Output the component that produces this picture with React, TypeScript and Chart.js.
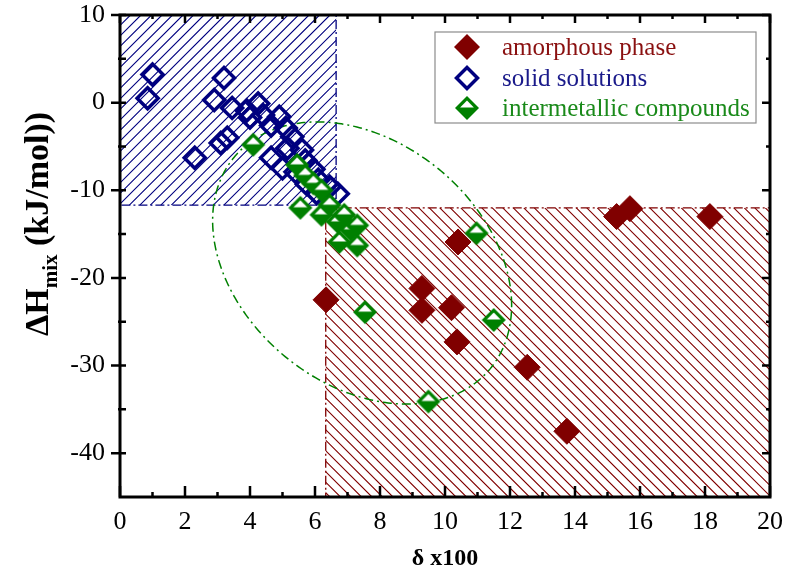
import React, { useEffect, useRef } from 'react';
import { Chart, registerables } from 'chart.js';

Chart.register(...registerables);

// ---------- data ----------
const SERIES_NAMES = ['amorphous phase', 'solid solutions', 'intermetallic compounds'];

const AMORPHOUS_X = [6.34, 9.29, 9.29, 10.2, 10.37, 10.4, 12.53, 13.75, 15.28, 15.69, 18.15];
const AMORPHOUS_Y = [-22.5, -21.2, -23.7, -23.4, -27.3, -15.9, -30.2, -37.5, -13.0, -12.1, -13.0];

const SOLID_X = [1.0, 0.85, 2.3, 3.2, 2.9, 3.45, 3.9, 3.3, 3.1, 4.0, 4.25, 4.4, 4.65, 4.9, 5.1, 5.3, 5.15, 4.65, 5.0, 5.6, 5.7, 5.4, 5.95, 6.1, 6.45, 6.7, 5.75, 6.05];
const SOLID_Y = [3.2, 0.5, -6.3, 2.8, 0.3, -0.6, -0.9, -4.0, -4.6, -1.7, -0.1, -1.4, -2.6, -1.6, -2.9, -3.9, -5.2, -6.3, -7.5, -5.4, -6.6, -7.9, -7.6, -8.8, -9.6, -10.4, -9.3, -10.3];

const INTER_X = [4.1, 5.45, 5.7, 5.95, 6.2, 5.55, 6.2, 6.45, 6.7, 6.9, 7.1, 7.3, 6.75, 7.3, 7.54, 9.49, 10.97, 11.5];
const INTER_Y = [-4.8, -7.1, -8.3, -9.2, -10.0, -12.0, -12.8, -11.7, -13.6, -12.8, -14.5, -14.0, -15.9, -16.3, -23.9, -34.1, -14.9, -24.8];

const X_MAJOR = [0, 2, 4, 6, 8, 10, 12, 14, 16, 18, 20];
const X_MINOR = [1, 3, 5, 7, 9, 11, 13, 15, 17, 19];
const Y_MAJOR = [-40, -30, -20, -10, 0, 10];
const Y_MINOR = [-35, -25, -15, -5, 5];
const X_LIMITS = [0, 20];
const Y_LIMITS = [-45, 10];

// regions in data units: [xFrom, xTo, yFrom, yTo]
const SOLID_REGION = [0, 6.65, -11.7, 10];
const AMORPH_REGION = [6.33, 20, -45, -12.0];
// ellipse in data units: [centerX, centerY, radiusX, radiusY, tilt]
const INTER_ELLIPSE = [7.45, -18.3, 4.6, 16.1, -0.3];

const X_TITLE = 'δ x100';
const Y_TITLE_MAIN = 'ΔH';
const Y_TITLE_SUB = 'mix';
const Y_TITLE_REST = ' (kJ/mol))';

// ---------- styles ----------
const RED = '#800000';
const BLUE = '#00007f';
const GREEN = '#008000';
const SERIF = "'Liberation Serif', 'Times New Roman', serif";

function makeInterMarker(r: number, lw: number, color: string) {
  const c = document.createElement('canvas');
  const s = Math.ceil(2 * r + 2);
  c.width = s;
  c.height = s;
  const ctx = c.getContext('2d')!;
  const cx = s / 2, cy = s / 2;
  ctx.fillStyle = color;
  ctx.beginPath();
  ctx.moveTo(cx, cy - r);
  ctx.lineTo(cx + r, cy);
  ctx.lineTo(cx, cy + r);
  ctx.lineTo(cx - r, cy);
  ctx.closePath();
  ctx.fill();
  const ir = r - lw * 1.414;
  ctx.fillStyle = '#ffffff';
  ctx.beginPath();
  ctx.moveTo(cx, cy - ir);
  ctx.lineTo(cx + ir * 0.92, cy - ir * 0.08);
  ctx.lineTo(cx - ir * 0.92, cy - ir * 0.08);
  ctx.closePath();
  ctx.fill();
  return c;
}

function diamondPath(ctx: CanvasRenderingContext2D, x: number, y: number, r: number) {
  ctx.beginPath();
  ctx.moveTo(x, y - r);
  ctx.lineTo(x + r, y);
  ctx.lineTo(x, y + r);
  ctx.lineTo(x - r, y);
  ctx.closePath();
}

const decorPlugin = {
  id: 'decor',
  beforeDatasetsDraw(chart: any) {
    const { ctx, chartArea } = chart;
    const xs = chart.scales.x, ys = chart.scales.y;
    ctx.save();
    ctx.beginPath();
    ctx.rect(chartArea.left, chartArea.top, chartArea.right - chartArea.left, chartArea.bottom - chartArea.top);
    ctx.clip();

    const hatch = (reg: number[], color: string, dir: number, dash: number[]) => {
      const l = xs.getPixelForValue(reg[0]);
      const r = xs.getPixelForValue(reg[1]);
      const b = ys.getPixelForValue(reg[2]);
      const t = ys.getPixelForValue(reg[3]);
      const h = b - t;
      ctx.save();
      ctx.beginPath();
      ctx.rect(l, t, r - l, h);
      ctx.clip();
      ctx.strokeStyle = color;
      ctx.lineWidth = 1.1;
      const step = 10.5;
      ctx.beginPath();
      for (let x = chartArea.left - h - step * 2; x < r + h + step; x += step) {
        if (dir > 0) {
          ctx.moveTo(x, b);
          ctx.lineTo(x + h, t);
        } else {
          ctx.moveTo(x, t);
          ctx.lineTo(x + h, b);
        }
      }
      ctx.stroke();
      ctx.restore();
      ctx.save();
      ctx.strokeStyle = color;
      ctx.lineWidth = 1.3;
      ctx.setLineDash(dash);
      ctx.strokeRect(l, t, r - l, h);
      ctx.restore();
    };
    hatch(SOLID_REGION, BLUE, 1, [9, 3, 2, 3]);
    hatch(AMORPH_REGION, RED, -1, [9, 3, 2, 3]);

    // ellipse
    const [ecx, ecy, erx, ery, k] = INTER_ELLIPSE;
    ctx.strokeStyle = GREEN;
    ctx.lineWidth = 1.5;
    ctx.setLineDash([9, 4, 2, 4]);
    ctx.beginPath();
    const q = Math.sqrt(1 - k * k);
    for (let i = 0; i <= 360; i++) {
      const a = (i / 360) * Math.PI * 2;
      const vx = ecx + erx * Math.cos(a);
      const vy = ecy + ery * (k * Math.cos(a) + q * Math.sin(a));
      const px = xs.getPixelForValue(vx);
      const py = ys.getPixelForValue(vy);
      if (i === 0) ctx.moveTo(px, py);
      else ctx.lineTo(px, py);
    }
    ctx.stroke();
    ctx.restore();
  },
  afterDraw(chart: any) {
    const { ctx, chartArea } = chart;
    const xs = chart.scales.x, ys = chart.scales.y;
    const { left, right, top, bottom } = chartArea;
    ctx.save();
    // frame
    ctx.strokeStyle = '#000';
    ctx.lineWidth = 3;
    ctx.setLineDash([]);
    ctx.strokeRect(left, top, right - left, bottom - top);
    // ticks
    ctx.lineWidth = 2.5;
    ctx.beginPath();
    X_MAJOR.forEach((v) => {
      const p = xs.getPixelForValue(v);
      ctx.moveTo(p, bottom); ctx.lineTo(p, bottom - 11);
      ctx.moveTo(p, top); ctx.lineTo(p, top + 8);
    });
    X_MINOR.forEach((v) => {
      const p = xs.getPixelForValue(v);
      ctx.moveTo(p, bottom); ctx.lineTo(p, bottom - 5);
      ctx.moveTo(p, top); ctx.lineTo(p, top + 4);
    });
    Y_MAJOR.forEach((v) => {
      const p = ys.getPixelForValue(v);
      ctx.moveTo(left - 9, p); ctx.lineTo(left + 6, p);
      ctx.moveTo(right, p); ctx.lineTo(right - 8, p);
    });
    Y_MINOR.forEach((v) => {
      const p = ys.getPixelForValue(v);
      ctx.moveTo(left - 2, p); ctx.lineTo(left + 6, p);
      ctx.moveTo(right, p); ctx.lineTo(right - 4, p);
    });
    ctx.stroke();

    // x title
    ctx.fillStyle = '#000';
    ctx.font = `bold 24px ${SERIF}`;
    ctx.textAlign = 'center';
    ctx.textBaseline = 'alphabetic';
    ctx.fillText(X_TITLE, (left + right) / 2, 565);

    // y title
    ctx.save();
    ctx.translate(48, 224);
    ctx.rotate(-Math.PI / 2);
    const mainFont = `bold 34px ${SERIF}`;
    const subFont = `bold 21px ${SERIF}`;
    ctx.font = mainFont;
    const w1 = ctx.measureText(Y_TITLE_MAIN).width;
    const w3 = ctx.measureText(Y_TITLE_REST).width;
    ctx.font = subFont;
    const w2 = ctx.measureText(Y_TITLE_SUB).width;
    let x0 = -(w1 + w2 + w3) / 2;
    ctx.textAlign = 'left';
    ctx.font = mainFont;
    ctx.fillText(Y_TITLE_MAIN, x0, 0);
    x0 += w1;
    ctx.font = subFont;
    ctx.fillText(Y_TITLE_SUB, x0, 9);
    x0 += w2;
    ctx.font = mainFont;
    ctx.fillText(Y_TITLE_REST, x0, 0);
    ctx.restore();

    // legend
    const lx = 435, ly = 32, lw = 321, lh = 91;
    ctx.fillStyle = '#fff';
    ctx.fillRect(lx, ly, lw, lh);
    ctx.strokeStyle = '#8c8c8c';
    ctx.lineWidth = 1.2;
    ctx.strokeRect(lx, ly, lw, lh);
    const rows = [47, 78, 108];
    const colors = ['#8a1010', '#1a1a8a', '#1a8a1a'];
    const mx = 467;
    ctx.fillStyle = RED;
    diamondPath(ctx, mx, rows[0], 13);
    ctx.fill();
    ctx.strokeStyle = BLUE;
    ctx.lineWidth = 3.5;
    diamondPath(ctx, mx, rows[1], 10.5);
    ctx.stroke();
    const img = chart.data.datasets[2].pointStyle;
    ctx.drawImage(img, mx - img.width / 2, rows[2] - img.height / 2);
    ctx.font = `25px ${SERIF}`;
    ctx.textAlign = 'left';
    ctx.textBaseline = 'middle';
    SERIES_NAMES.forEach((n, i) => {
      ctx.fillStyle = colors[i];
      ctx.fillText(n, 502, rows[i] + 1);
    });
    ctx.restore();
  },
};

export default function App() {
  const ref = useRef<HTMLCanvasElement>(null);
  useEffect(() => {
    const interMarker = makeInterMarker(12, 3.2, GREEN);
    const chart = new Chart(ref.current!, {
      type: 'scatter',
      data: {
        datasets: [
          {
            label: SERIES_NAMES[0],
            data: AMORPHOUS_X.map((x, i) => ({ x, y: AMORPHOUS_Y[i] })),
            pointStyle: 'rectRot',
            pointRadius: 13,
            backgroundColor: RED,
            borderColor: RED,
            borderWidth: 1,
            order: 2,
          },
          {
            label: SERIES_NAMES[1],
            data: SOLID_X.map((x, i) => ({ x, y: SOLID_Y[i] })),
            pointStyle: 'rectRot',
            pointRadius: 10.5,
            backgroundColor: 'rgba(0,0,0,0)',
            borderColor: BLUE,
            borderWidth: 3.5,
            order: 1,
          },
          {
            label: SERIES_NAMES[2],
            data: INTER_X.map((x, i) => ({ x, y: INTER_Y[i] })),
            pointStyle: interMarker as any,
            pointRadius: 12,
            backgroundColor: GREEN,
            borderColor: GREEN,
            order: 0,
          },
        ],
      },
      options: {
        animation: false,
        responsive: false,
        devicePixelRatio: 1,
        layout: { padding: { left: 0, top: 15, right: 17, bottom: 0 } },
        plugins: { legend: { display: false }, tooltip: { enabled: false } },
        scales: {
          x: {
            type: 'linear',
            min: X_LIMITS[0],
            max: X_LIMITS[1],
            grid: { display: false, drawTicks: false },
            border: { display: false },
            afterBuildTicks: (s: any) => { s.ticks = X_MAJOR.map((v) => ({ value: v })); },
            afterFit: (s: any) => { s.height = 74; s.paddingLeft = 0; s.paddingRight = 0; },
            ticks: { color: '#000', font: { family: SERIF, size: 26 }, padding: 10, maxRotation: 0, autoSkip: false },
          },
          y: {
            type: 'linear',
            min: Y_LIMITS[0],
            max: Y_LIMITS[1],
            grid: { display: false, drawTicks: false },
            border: { display: false },
            afterBuildTicks: (s: any) => { s.ticks = Y_MAJOR.map((v) => ({ value: v })); },
            afterFit: (s: any) => { s.width = 120; s.paddingTop = 0; s.paddingBottom = 0; },
            ticks: { color: '#000', font: { family: SERIF, size: 26 }, padding: 15, autoSkip: false },
          },
        },
      },
      plugins: [decorPlugin],
    });
    return () => chart.destroy();
  }, []);
  return (
    <div style={{ position: 'fixed', left: 0, top: 0, width: 787, height: 571, background: '#fff' }}>
      <canvas ref={ref} width={787} height={571} style={{ width: 787, height: 571, display: 'block' }} />
    </div>
  );
}
